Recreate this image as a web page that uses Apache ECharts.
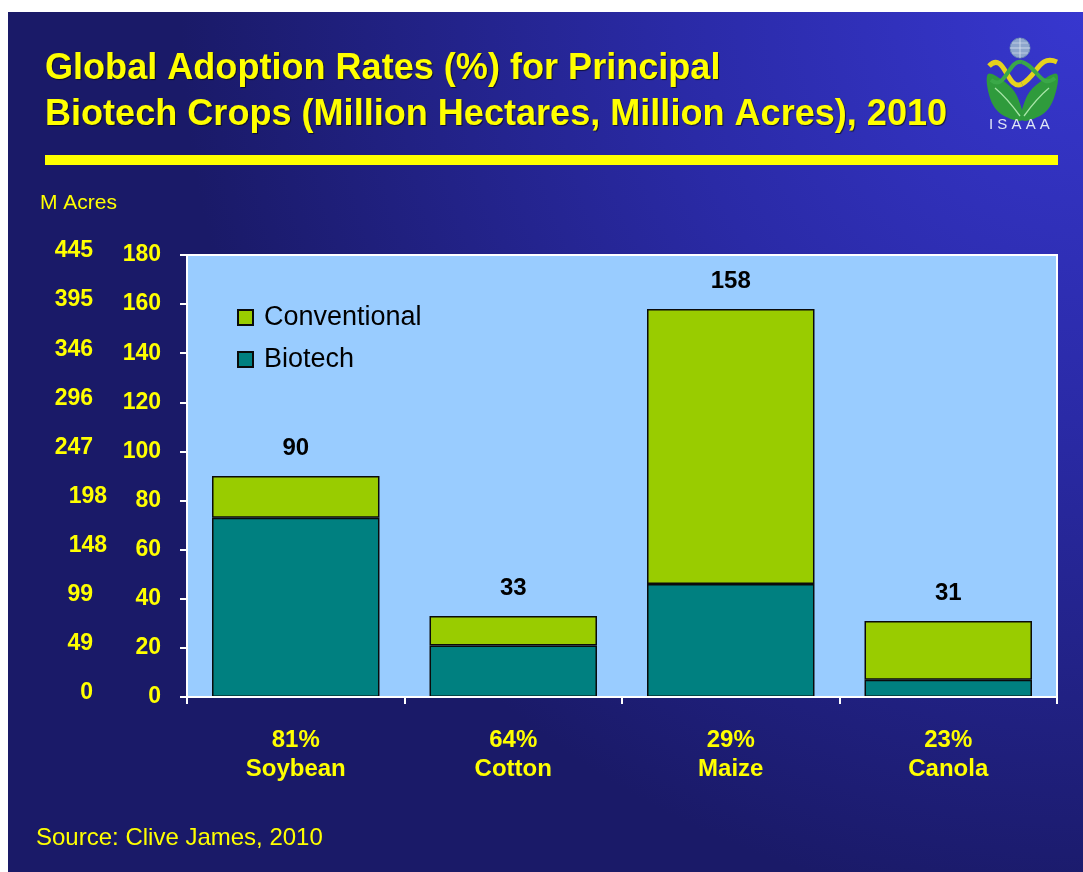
<!DOCTYPE html>
<html>
<head>
<meta charset="utf-8">
<script src="https://cdn.jsdelivr.net/npm/echarts@6/dist/echarts.min.js"></script>
<style>
  html, body { margin: 0; padding: 0; background: #ffffff; }
  #chart { width: 1083px; height: 872px; }
</style>
</head>
<body>
<div id="chart"></div>
<script>
// Crops with their biotech adoption share, 2010
const crops = ['Soybean', 'Cotton', 'Maize', 'Canola'];
const adoption = ['81%', '64%', '29%', '23%'];
// Area in million hectares
const biotech = [73, 21, 46, 7];
const conventional = [17, 12, 112, 24];
// Left-most axis: the same ticks expressed in million acres
const acresTicks = ['0', '49', '99', '148', '198', '247', '296', '346', '395', '445'];

const YELLOW = '#FFFF00';
const sans = '"Liberation Sans", Arial, sans-serif';

const chart = echarts.init(document.getElementById('chart'));

const option = {
  backgroundColor: '#ffffff',
  animation: false,
  textStyle: { fontFamily: sans },
  grid: {
    left: 187, top: 255, right: 26, bottom: 175,
    show: true, backgroundColor: '#99CCFF', borderColor: '#ffffff', borderWidth: 2,
    containLabel: false
  },
  legend: {
    orient: 'vertical',
    left: 232, top: 299,
    itemWidth: 15, itemHeight: 15, itemGap: 15,
    icon: 'rect',
    data: ['Conventional', 'Biotech'],
    textStyle: { fontFamily: sans, fontSize: 27, color: '#000000', padding: [0, 0, 0, 6] }
  },
  xAxis: {
    type: 'category',
    data: crops,
    axisLine: { lineStyle: { color: '#ffffff', width: 2 } },
    axisTick: { show: true, length: 7, lineStyle: { color: '#ffffff', width: 2 } },
    axisLabel: {
      margin: 29,
      color: YELLOW, fontFamily: sans, fontWeight: 'bold', fontSize: 24, lineHeight: 29,
      formatter: (v, i) => adoption[i] + '\n' + v
    },
    z: 5
  },
  yAxis: [
    {
      type: 'value', min: 0, max: 180, interval: 20,
      splitLine: { show: false },
      axisLine: { show: true, lineStyle: { color: '#ffffff', width: 2 } },
      axisTick: { show: true, length: 7, lineStyle: { color: '#ffffff', width: 2 } },
      axisLabel: { margin: 26, color: YELLOW, fontFamily: sans, fontWeight: 'bold', fontSize: 23 }
    },
    {
      type: 'value', min: 0, max: 180, interval: 20, position: 'left',
      splitLine: { show: false },
      axisLine: { show: false }, axisTick: { show: false },
      axisLabel: {
        margin: 80, color: YELLOW, fontFamily: sans, fontWeight: 'bold', fontSize: 23,
        // the 148 and 198 entries sit a little further right in this column
        formatter: v => {
          const t = acresTicks[Math.round(v / 20)];
          return (t === '148' || t === '198') ? '{b|' + t + '}' : '{a|' + t + '}';
        },
        rich: {
          a: { padding: [0, 14, 8, 0], fontSize: 23, fontWeight: 'bold', color: YELLOW, fontFamily: sans },
          b: { padding: [0, 0, 8, 0], fontSize: 23, fontWeight: 'bold', color: YELLOW, fontFamily: sans }
        }
      }
    }
  ],
  series: [
    {
      name: 'Biotech', type: 'bar', stack: 'area', data: biotech,
      barWidth: '77%',
      itemStyle: { color: '#008080', borderColor: '#0a0a0a', borderWidth: 1.5 }
    },
    {
      name: 'Conventional', type: 'bar', stack: 'area', data: conventional,
      barWidth: '77%',
      itemStyle: { color: '#99CC00', borderColor: '#0a0a0a', borderWidth: 1.5 },
      label: {
        show: true, position: 'top', distance: 16,
        color: '#000000', fontFamily: sans, fontWeight: 'bold', fontSize: 24,
        formatter: p => String(biotech[p.dataIndex] + conventional[p.dataIndex])
      }
    }
  ],
  graphic: [
    // page background
    {
      type: 'rect', z: -100, silent: true,
      shape: { x: 8, y: 12, width: 1075, height: 860 },
      style: {
        fill: {
          type: 'radial', x: 1, y: 0, r: 1.05,
          colorStops: [
            { offset: 0, color: '#3737cf' },
            { offset: 0.45, color: '#2a2aa6' },
            { offset: 1, color: '#1a1a68' }
          ]
        }
      }
    },
    // heading
    {
      type: 'text', x: 45, y: 46, scaleX: 0.975, z: 10,
      style: {
        text: 'Global Adoption Rates (%) for Principal\nBiotech Crops (Million Hectares, Million Acres), 2010',
        fill: YELLOW, font: 'bold 37px ' + sans, lineHeight: 46,
        textShadowColor: 'rgba(0,0,0,0.6)', textShadowOffsetX: 1, textShadowOffsetY: 1, textShadowBlur: 1
      }
    },
    // rule under the heading
    {
      type: 'rect', z: 10,
      shape: { x: 45, y: 155, width: 1013, height: 10 },
      style: { fill: YELLOW }
    },
    // axis unit caption
    {
      type: 'text', x: 40, y: 193, z: 10,
      style: { text: 'M Acres', fill: YELLOW, font: '21px ' + sans }
    },
    // source note
    {
      type: 'text', x: 36, y: 826, z: 10,
      style: { text: 'Source: Clive James, 2010', fill: YELLOW, font: '24px ' + sans }
    },
    // ISAAA emblem
    {
      type: 'group', x: 985, y: 36, z: 10,
      children: [
        // leaves
        {
          type: 'polygon',
          shape: { points: [[37, 84], [16, 78], [5, 62], [3, 38], [20, 46], [32, 60]], smooth: 0.35 },
          style: { fill: '#2f9b3c' }
        },
        {
          type: 'polygon',
          shape: { points: [[37, 84], [58, 78], [69, 62], [72, 38], [55, 46], [42, 60]], smooth: 0.35 },
          style: { fill: '#2f9b3c' }
        },
        { type: 'bezierCurve', shape: { x1: 10, y1: 52, cpx1: 22, cpy1: 62, x2: 35, y2: 80 }, style: { stroke: '#a8e6a8', lineWidth: 1.3, fill: 'none' } },
        { type: 'bezierCurve', shape: { x1: 64, y1: 52, cpx1: 52, cpy1: 62, x2: 39, y2: 80 }, style: { stroke: '#a8e6a8', lineWidth: 1.3, fill: 'none' } },
        // helix strands
        { type: 'bezierCurve', shape: { x1: 4, y1: 30, cpx1: 20, cpy1: 14, cpx2: 22, cpy2: 56, x2: 37, y2: 48 }, style: { stroke: '#e6d21e', lineWidth: 5, fill: 'none' } },
        { type: 'bezierCurve', shape: { x1: 37, y1: 48, cpx1: 52, cpy1: 40, cpx2: 54, cpy2: 18, x2: 72, y2: 26 }, style: { stroke: '#e6d21e', lineWidth: 5, fill: 'none' } },
        { type: 'bezierCurve', shape: { x1: 6, y1: 44, cpx1: 20, cpy1: 56, cpx2: 24, cpy2: 22, x2: 37, y2: 26 }, style: { stroke: '#3aa848', lineWidth: 4, fill: 'none' } },
        { type: 'bezierCurve', shape: { x1: 37, y1: 26, cpx1: 52, cpy1: 30, cpx2: 56, cpy2: 54, x2: 70, y2: 42 }, style: { stroke: '#3aa848', lineWidth: 4, fill: 'none' } },
        // globe
        { type: 'circle', shape: { cx: 35, cy: 12, r: 10 }, style: { fill: '#8ea6cc', stroke: '#6a86b6', lineWidth: 1 } },
        { type: 'line', shape: { x1: 25, y1: 12, x2: 45, y2: 12 }, style: { stroke: '#dbe4f2', lineWidth: 0.8 } },
        { type: 'line', shape: { x1: 35, y1: 2, x2: 35, y2: 22 }, style: { stroke: '#dbe4f2', lineWidth: 0.8 } },
        { type: 'line', shape: { x1: 27, y1: 7, x2: 43, y2: 7 }, style: { stroke: '#dbe4f2', lineWidth: 0.6 } },
        { type: 'line', shape: { x1: 27, y1: 17, x2: 43, y2: 17 }, style: { stroke: '#dbe4f2', lineWidth: 0.6 } },
        // name
        {
          type: 'text', x: 4, y: 81,
          style: { text: 'I S A A A', fill: '#dfe6f5', font: '15px ' + sans }
        }
      ]
    }
  ]
};

chart.setOption(option);
</script>
</body>
</html>
